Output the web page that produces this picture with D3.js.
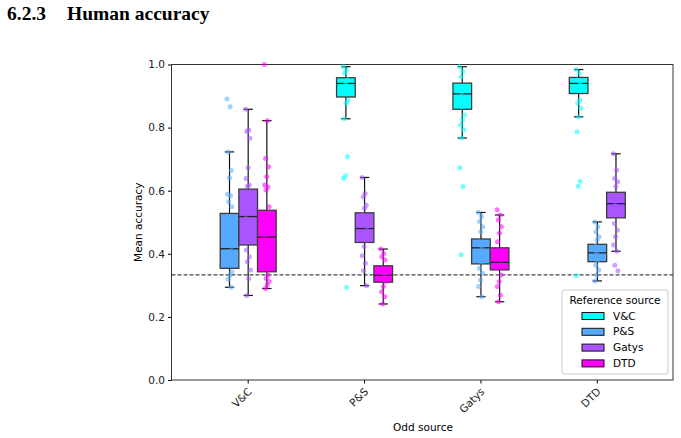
<!DOCTYPE html>
<html>
<head>
<meta charset="utf-8">
<script src="https://cdn.jsdelivr.net/npm/d3@7"></script>
<style>
  body { margin: 0; background: #fff; }
  svg { display: block; }
</style>
</head>
<body>
<svg id="chart" width="681" height="438"></svg>
<script>
// categories
const oddSources = ["V&C", "P&S", "Gatys", "DTD"];
const refSources = ["V&C", "P&S", "Gatys", "DTD"];
const refColors = ["#00ffff", "#55aaff", "#aa55ff", "#ff00ff"];
const chanceLevel = 1 / 3;
const yTicks = [0, 0.2, 0.4, 0.6, 0.8, 1.0];

// one box per (odd source, reference source) pair
const boxOdd = ["V&C", "V&C", "V&C", "P&S", "P&S", "P&S", "Gatys", "Gatys", "Gatys", "DTD", "DTD", "DTD"];
const boxRef = ["P&S", "Gatys", "DTD", "V&C", "Gatys", "DTD", "V&C", "P&S", "DTD", "V&C", "P&S", "Gatys"];
const whiskerLow = [0.294, 0.268, 0.290, 0.828, 0.299, 0.241, 0.767, 0.264, 0.248, 0.834, 0.314, 0.408];
const q1 = [0.354, 0.428, 0.343, 0.897, 0.436, 0.310, 0.858, 0.368, 0.349, 0.908, 0.375, 0.514];
const median = [0.416, 0.518, 0.453, 0.940, 0.480, 0.332, 0.907, 0.419, 0.373, 0.940, 0.403, 0.559];
const q3 = [0.528, 0.605, 0.538, 0.958, 0.530, 0.362, 0.941, 0.447, 0.419, 0.959, 0.430, 0.595];
const whiskerHigh = [0.723, 0.858, 0.822, 0.993, 0.642, 0.415, 0.993, 0.531, 0.523, 0.984, 0.501, 0.717];

// individual participant accuracies (strip points, incl. outliers)
const points = [
  [0.891, 0.866, 0.723, 0.664, 0.640, 0.589, 0.585, 0.565, 0.549, 0.518, 0.507, 0.496, 0.481, 0.467, 0.454, 0.438, 0.423, 0.407, 0.396, 0.380, 0.370, 0.343, 0.332, 0.319, 0.294],
  [0.858, 0.792, 0.788, 0.766, 0.673, 0.639, 0.618, 0.613, 0.591, 0.576, 0.560, 0.544, 0.528, 0.512, 0.496, 0.475, 0.459, 0.444, 0.412, 0.391, 0.375, 0.349, 0.322, 0.268],
  [1.0, 0.822, 0.702, 0.676, 0.644, 0.618, 0.612, 0.602, 0.549, 0.523, 0.507, 0.491, 0.475, 0.459, 0.444, 0.423, 0.401, 0.380, 0.359, 0.333, 0.322, 0.312, 0.301, 0.290],
  [0.993, 0.982, 0.972, 0.951, 0.940, 0.929, 0.919, 0.908, 0.887, 0.877, 0.828, 0.708, 0.647, 0.639, 0.294],
  [0.642, 0.591, 0.581, 0.554, 0.544, 0.523, 0.512, 0.502, 0.486, 0.470, 0.454, 0.444, 0.423, 0.394, 0.370, 0.346, 0.299],
  [0.415, 0.401, 0.391, 0.380, 0.354, 0.343, 0.333, 0.322, 0.312, 0.296, 0.280, 0.264, 0.241],
  [0.993, 0.977, 0.961, 0.929, 0.914, 0.898, 0.882, 0.866, 0.840, 0.824, 0.808, 0.792, 0.767, 0.673, 0.613, 0.397],
  [0.531, 0.518, 0.502, 0.486, 0.470, 0.438, 0.423, 0.407, 0.391, 0.375, 0.354, 0.338, 0.317, 0.296, 0.264],
  [0.540, 0.523, 0.507, 0.486, 0.465, 0.438, 0.412, 0.396, 0.380, 0.365, 0.354, 0.333, 0.312, 0.296, 0.269, 0.248],
  [0.984, 0.972, 0.951, 0.940, 0.929, 0.919, 0.887, 0.877, 0.861, 0.834, 0.787, 0.630, 0.614, 0.331],
  [0.501, 0.486, 0.470, 0.454, 0.444, 0.423, 0.412, 0.401, 0.391, 0.380, 0.364, 0.349, 0.333, 0.314],
  [0.717, 0.665, 0.639, 0.628, 0.613, 0.586, 0.570, 0.554, 0.539, 0.523, 0.496, 0.475, 0.454, 0.428, 0.408, 0.364, 0.346]
];

const svg = d3.select("#chart");
const font = "'DejaVu Sans', sans-serif";

// section heading
const heading = svg.append("text")
    .attr("y", 20)
    .attr("font-family", "'Liberation Serif', 'Times New Roman', serif")
    .attr("font-weight", "bold")
    .attr("font-size", 19.5);
heading.append("tspan").attr("x", 7).text("6.2.3");
heading.append("tspan").attr("x", 67).text("Human accuracy");

const plot = { left: 171.5, right: 673, top: 64.5, bottom: 380 };

const x = d3.scaleBand()
    .domain(oddSources)
    .range([190, 655.5]);

const inner = d3.scaleBand()
    .domain([0, 1, 2])
    .range([-28, 28]);

const y = d3.scaleLinear()
    .domain([0, 1])
    .range([plot.bottom, plot.top]);

const color = d3.scaleOrdinal()
    .domain(refSources)
    .range(refColors);

// axes
const yAxis = svg.append("g")
    .attr("transform", `translate(${plot.left},0)`)
    .call(d3.axisLeft(y).tickValues(yTicks).tickFormat(d3.format(".1f")).tickSize(3.5).tickPadding(3));
yAxis.select(".domain").remove();
yAxis.selectAll("text").attr("font-family", font).attr("font-size", 10.5).attr("fill", "#222");

const xAxis = svg.append("g")
    .attr("transform", `translate(0,${plot.bottom})`)
    .call(d3.axisBottom(x).tickSize(3.5));
xAxis.select(".domain").remove();
xAxis.selectAll("text")
    .attr("font-family", font)
    .attr("font-size", 10.5)
    .attr("fill", "#222")
    .attr("text-anchor", "end")
    .attr("y", 0)
    .attr("dy", "0.71em")
    .attr("transform", "translate(-1,7) rotate(-45)");

// frame
svg.append("rect")
    .attr("x", plot.left)
    .attr("y", plot.top)
    .attr("width", plot.right - plot.left)
    .attr("height", plot.bottom - plot.top)
    .attr("fill", "none")
    .attr("stroke", "#333")
    .attr("stroke-width", 1);

// chance line
svg.append("line")
    .attr("x1", plot.left)
    .attr("x2", plot.right)
    .attr("y1", y(chanceLevel))
    .attr("y2", y(chanceLevel))
    .attr("stroke", "#444")
    .attr("stroke-width", 1.1)
    .attr("stroke-dasharray", "4,2");

// boxes
const boxData = boxOdd.map((odd, i) => ({
    odd: odd,
    ref: boxRef[i],
    slot: boxOdd.slice(0, i).filter(o => o === odd).length,
    lo: whiskerLow[i], q1: q1[i], med: median[i], q3: q3[i], hi: whiskerHigh[i],
    pts: points[i]
}));

const bw = inner.bandwidth();
const cx = d => x(d.odd) + x.bandwidth() / 2 + inner(d.slot) + bw / 2;

const boxes = svg.append("g").selectAll("g")
    .data(boxData)
    .join("g");

boxes.append("line")
    .attr("x1", cx).attr("x2", cx)
    .attr("y1", d => y(d.hi)).attr("y2", d => y(d.lo))
    .attr("stroke", "#111").attr("stroke-width", 1.2);

boxes.append("rect")
    .attr("x", d => cx(d) - bw / 2)
    .attr("y", d => y(d.q3))
    .attr("width", bw)
    .attr("height", d => y(d.q1) - y(d.q3))
    .attr("fill", d => color(d.ref))
    .attr("stroke", "#3c3c3c")
    .attr("stroke-width", 1.3);

boxes.append("line")
    .attr("x1", d => cx(d) - bw / 2).attr("x2", d => cx(d) + bw / 2)
    .attr("y1", d => y(d.med)).attr("y2", d => y(d.med))
    .attr("stroke", "#222").attr("stroke-width", 1.3);

["lo", "hi"].forEach(k => {
    boxes.append("line")
        .attr("x1", d => cx(d) - bw / 4).attr("x2", d => cx(d) + bw / 4)
        .attr("y1", d => y(d[k])).attr("y2", d => y(d[k]))
        .attr("stroke", "#111").attr("stroke-width", 1.2);
});

// strip points with a small fixed jitter
boxes.selectAll("circle")
    .data(d => d.pts.map((v, j) => ({ v: v, j: j, d: d })))
    .join("circle")
    .attr("cx", p => cx(p.d) + (((p.j * 0.618) % 1) - 0.5) * 5)
    .attr("cy", p => y(p.v))
    .attr("r", 2.5)
    .attr("fill", p => color(p.d.ref))
    .attr("fill-opacity", 0.55);

// axis titles
svg.append("text")
    .attr("x", 423)
    .attr("y", 431)
    .attr("text-anchor", "middle")
    .attr("font-family", font)
    .attr("font-size", 10.5)
    .text("Odd source");

svg.append("text")
    .attr("transform", `translate(142,${(plot.top + plot.bottom) / 2}) rotate(-90)`)
    .attr("text-anchor", "middle")
    .attr("font-family", font)
    .attr("font-size", 10.5)
    .text("Mean accuracy");

// legend
const legend = svg.append("g").attr("transform", "translate(562,290)");
legend.append("rect")
    .attr("width", 106).attr("height", 84).attr("rx", 2)
    .attr("fill", "#fff").attr("fill-opacity", 0.8)
    .attr("stroke", "#ccc");
legend.append("text")
    .attr("x", 53).attr("y", 14)
    .attr("text-anchor", "middle")
    .attr("font-family", font).attr("font-size", 10.5)
    .text("Reference source");
const items = legend.selectAll(".item")
    .data(refSources)
    .join("g")
    .attr("class", "item")
    .attr("transform", (d, i) => `translate(0,${26 + i * 15.8})`);
items.append("rect")
    .attr("x", 20).attr("y", -3.5).attr("width", 22).attr("height", 7)
    .attr("fill", d => color(d)).attr("stroke", "#111").attr("stroke-width", 1);
items.append("text")
    .attr("x", 51).attr("y", 0).attr("dy", "0.35em")
    .attr("font-family", font).attr("font-size", 10.5)
    .text(d => d);
</script>
</body>
</html>
